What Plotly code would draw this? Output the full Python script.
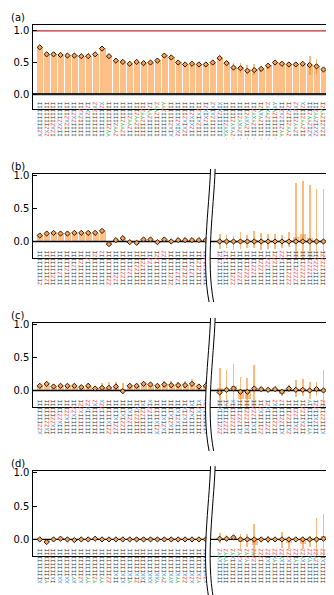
import plotly.graph_objects as go

W, H = 334, 595

# ---------------- data ----------------
slots = list(range(43))

# (a) stabilizer-type operators (first character = bottom of the rotated label)
a_labels = [
    "XZIIIIIIII", "ZXZIIIIIII", "IZXZIIIIII", "IIZXZIIIII", "IIIZXZIIII",
    "IIIIZXZIII", "IIIIIZXZII", "IIIIIIZXZI", "IIIIIIIZXZ", "IIIIIIIIZX",
    "YYZIIIIIII", "ZYYZIIIIII", "IZYYZIIIII", "IIZYYZIIII", "IIIZYYZIII",
    "IIIIZYYZII", "IIIIIZYYZI", "IIIIIIZYYZ", "IIIIIIIZYY",
    "XIXZIIIIII", "ZXIXZIIIII", "IZXIXZIIII", "IIZXIXZIII", "IIIZXIXZII",
    "IIIIZXIXZI", "IIIIIZXIXZ", "IIIIIIZXIX",
    "-YXYZIIIIII", "-ZYXYZIIIII", "-IZYXYZIIII", "-IIZYXYZIII", "-IIIZYXYZII",
    "-IIIIZYXYZI", "-IIIIIZYXYZ", "-IIIIIIZYXY",
    "YYZIIZXZII", "ZYYZIIZXZI", "IZYYZIIZXZ", "IIZYYZIIZX",
    "XZIZYYZIII", "ZXZIZYYZII", "IZXZIZYYZI", "IIZXZIZYYZ",
]
a_theory = [0.74, 0.63, 0.63, 0.62, 0.61, 0.61, 0.60, 0.60, 0.63, 0.72,
            0.60, 0.53, 0.51, 0.48, 0.51, 0.49, 0.50, 0.53, 0.61,
            0.58, 0.50, 0.47, 0.48, 0.47, 0.47, 0.50, 0.57,
            0.49, 0.42, 0.41, 0.37, 0.38, 0.40, 0.45, 0.50,
            0.48, 0.47, 0.47, 0.48, 0.46, 0.44, 0.39, 0.42]
a_exp = [0.74, 0.63, 0.63, 0.62, 0.61, 0.61, 0.60, 0.60, 0.63, 0.72,
         0.60, 0.53, 0.51, 0.48, 0.51, 0.49, 0.50, 0.53, 0.61,
         0.58, 0.50, 0.47, 0.48, 0.47, 0.47, 0.50, 0.57,
         0.49, 0.43, 0.42, 0.39, 0.39, 0.40, 0.45, 0.50,
         0.48, 0.47, 0.47, 0.48, 0.46, 0.44, 0.39, 0.42]
a_err = [0.01, 0.01, 0.01, 0.01, 0.01, 0.01, 0.01, 0.01, 0.01, 0.01,
         0.01, 0.01, 0.01, 0.01, 0.01, 0.01, 0.01, 0.01, 0.01,
         0.01, 0.01, 0.01, 0.01, 0.01, 0.01, 0.01, 0.02,
         0.02, 0.07, 0.08, 0.07, 0.08, 0.05, 0.05, 0.02,
         0.01, 0.01, 0.02, 0.02, 0.15, 0.12, 0.02, 0.02]

# (b)
b_labels = [
    "ZIIIIIIIII", "IZIIIIIIII", "IIZIIIIIII", "IIIZIIIIII", "IIIIZIIIII",
    "IIIIIZIIII", "IIIIIIZIII", "IIIIIIIZII", "IIIIIIIIZI", "IIIIIIIIIZ",
    "ZZIIIIIIII", "IZZIIIIIII", "IIZZIIIIII", "IIIZZIIIII", "IIIIZZIIII",
    "IIIIIZZIII", "IIIIIIZZII", "IIIIIIIZZI", "IIIIIIIIZZ",
    "ZIZIIIIIII", "IZIZIIIIII", "IIZIZIIIII", "IIIZIZIIII", "IIIIZIZIII",
    "IIIIIZIZII", "",
    "IIIIIIZIZI", "IIIIIIIZIZ",
    "ZZZIIIIIII", "IZZZIIIIII", "IIZZZIIIII", "IIIZZZIIII", "IIIIZZZIII",
    "IIIIIZZZII", "IIIIIIZZZI", "IIIIIIIZZZ",
    "ZZZZIIIIII", "IZZZZIIIII", "IIZZZZIIII", "IIIZZZZIII", "IIIIZZZZII",
    "IIIIIZZZZI", "IIIIIIZZZZ",
]
b_theory = [0.09, 0.12, 0.13, 0.12, 0.12, 0.13, 0.13, 0.13, 0.13, 0.16,
            -0.04, 0.02, 0.05, -0.01, -0.02, 0.03, 0.03, -0.01, 0.03,
            0.0, 0.02, 0.02, 0.02, 0.02, 0.02, None,
            0.0, 0.0, 0.0, 0.0, 0.0, 0.0, 0.0, 0.0, 0.0,
            0.0, 0.0, 0.0, 0.0, 0.0, 0.0, 0.0, 0.0]
b_exp = [0.09, 0.12, 0.13, 0.12, 0.12, 0.13, 0.13, 0.13, 0.13, 0.16,
         -0.04, 0.02, 0.05, -0.01, -0.02, 0.03, 0.03, -0.01, 0.03,
         0.0, 0.02, 0.02, 0.02, 0.02, 0.02, None,
         0.0, 0.0, -0.02, 0.02, 0.0, 0.03, 0.0, 0.0, 0.0,
         0.0, 0.03, 0.08, 0.12, 0.06, 0.0, 0.0, -0.22]
b_err = [0.01, 0.01, 0.01, 0.01, 0.01, 0.01, 0.01, 0.01, 0.01, 0.01,
         0.01, 0.01, 0.01, 0.01, 0.01, 0.01, 0.01, 0.01, 0.01,
         0.01, 0.01, 0.01, 0.01, 0.01, 0.01, None,
         0.12, 0.10, 0.11, 0.13, 0.10, 0.13, 0.13, 0.11, 0.11,
         0.10, 0.12, 0.80, 0.79, 0.79, 0.80, 0.80, 0.79]

# (c)
c_labels = [
    "XZZIIIIIII", "IXZZIIIIII", "IIXZZIIIII", "IIIXZZIIII", "IIIIXZZIII",
    "IIIIIXZZII", "IIIIIIXZZI", "IIIIIIIXZZ", "IIIIIIIIXZ", "IIIIIIIZZX",
    "ZZIXIIIIII", "IZZIXIIIII", "IIZZIXIIII", "IIIZZIXIII", "IIIIZZIXII",
    "IIIIIZZIXI", "IIIIIIZZIX",
    "XZIXIIIIII", "IXZIXIIIII", "IIXZIXIIII", "IIIXZIXIII", "IIIIXZIXII",
    "IIIIIXZIXI", "IIIIIIXZIX", "XIIIIIIZZX", "",
    "ZZZIIIIXII", "IZZZIIIIXI", "IIZZZIIIIX", "XIIZZZIIII", "IXIIZZZIII",
    "IIXIIZZZII", "ZZIIIIXZII", "IZZIIIIXZI", "IIZZIIIIXZ", "XIIZZIIIIZ",
    "ZXIIZZIIII", "IZXIIZZIII", "IIZXIIZZII", "YYIIIIIIIY", "IIIZXIIZZI",
    "XIIIZZIIIZ", "IIIIIZXIZZ",
]
c_theory = [0.07, 0.10, 0.06, 0.07, 0.07, 0.07, 0.05, 0.07, 0.03, 0.04,
            0.04, 0.06, -0.01, 0.07, 0.07, 0.10, 0.09, 0.07, 0.09, 0.08,
            0.08, 0.08, 0.10, 0.06, 0.07, None,
            -0.03, 0.01, 0.03, -0.02, -0.02, 0.03, 0.02, 0.01, 0.02,
            -0.02, 0.03, 0.01, 0.01, 0.0, 0.02, 0.0, 0.01]
c_exp = [0.07, 0.09, 0.06, 0.07, 0.07, 0.06, 0.05, 0.07, 0.04, 0.05,
         0.06, 0.07, 0.03, 0.07, 0.07, 0.10, 0.09, 0.08, 0.09, 0.09,
         0.08, 0.09, 0.11, 0.05, 0.08, None,
         0.04, 0.02, 0.07, -0.12, -0.12, 0.05, 0.02, 0.01, 0.02,
         -0.05, 0.03, 0.03, 0.05, 0.0, 0.02, 0.03, 0.13]
c_err = [0.02, 0.02, 0.03, 0.02, 0.03, 0.02, 0.04, 0.05, 0.03, 0.06,
         0.07, 0.06, 0.08, 0.05, 0.03, 0.02, 0.02, 0.04, 0.05, 0.06,
         0.05, 0.05, 0.06, 0.04, 0.07, None,
         0.30, 0.29, 0.33, 0.32, 0.31, 0.34, 0.03, 0.02, 0.02,
         0.04, 0.05, 0.13, 0.13, 0.13, 0.11, 0.28, 0.31]

# (d)
d_labels = [
    "XIIIIIIIII", "YIIIIIIIII", "IXIIIIIIII", "XXIIIIIIII", "XXIIIIIIII",
    "XYIIIIIIII", "XZIIIIIIII", "YYIIIIIIII", "YZIIIIIIII", "YYIIIIIIII",
    "ZZIIIIIIII", "IIXIIIIIII", "XIXIIIIIII", "YIXIIIIIII", "ZIXIIIIIII",
    "IXXIIIIIII", "XXXIIIIIII", "YXXIIIIIII", "ZYXIIIIIII", "XYXIIIIIII",
    "YYXIIIIIII", "ZZXIIIIIII", "XZXIIIIIII", "YZXIIIIIII", "XZXIIIIIII", "",
    "IIIIIIXYYZ", "IIIIIIYYYZ", "IIIIIIIXYZ", "IIIIIIXZYZ", "IIIIIIYZYZ",
    "IIIIIIZZYZ", "IIIIIIIZZZ", "IIIIIIXIZZ", "IIIIIIYXZZ", "IIIIIIXYZZ",
    "IIIIIIXZZZ", "IIIIIIYIZZ", "IIIIIIXYZZ", "IIIIIIYXZZ", "IIIIIIZYZZ",
    "IIIIIIXIZZ", "IIIIIIYZZZ",
]
d_theory = [0.0, -0.04, 0.0, 0.01, 0.0, -0.01, 0.0, 0.0, 0.01, 0.0,
            0.0, 0.0, 0.0, 0.0, 0.0, 0.0, 0.0, 0.0, 0.0, 0.0,
            0.0, 0.0, 0.0, 0.0, 0.0, None,
            0.01, 0.01, 0.03, 0.0, 0.0, 0.0, 0.0, 0.0, 0.0,
            0.0, 0.0, 0.0, 0.0, 0.0, 0.0, 0.01, 0.0]
d_exp = [0.0, -0.04, 0.0, 0.01, 0.0, -0.01, 0.0, 0.0, 0.01, 0.0,
         0.0, 0.0, 0.0, 0.0, 0.0, 0.0, 0.0, 0.0, 0.0, 0.0,
         0.0, 0.0, 0.0, 0.0, 0.0, None,
         0.02, 0.01, 0.03, -0.04, -0.02, -0.08, 0.0, 0.0, 0.0,
         -0.01, -0.06, 0.0, -0.07, -0.03, 0.02, 0.05, -0.05]
d_err = [0.01, 0.01, 0.01, 0.01, 0.01, 0.01, 0.01, 0.01, 0.01, 0.01,
         0.01, 0.01, 0.01, 0.01, 0.01, 0.01, 0.01, 0.01, 0.01, 0.01,
         0.01, 0.01, 0.01, 0.01, 0.01, None,
         0.07, 0.05, 0.02, 0.12, 0.10, 0.31, 0.03, 0.05, 0.02,
         0.12, 0.08, 0.02, 0.07, 0.08, 0.30, 0.33, 0.30]

# ---------------- styling ----------------
PAULI_COLORS = {'I': '#333333', 'X': '#3a8ee0', 'Y': '#3cb043',
                'Z': '#ec4a4a', '-': '#8c8c8c'}
BAR_COLOR = '#ffbf87'
ERR_COLOR = 'rgba(255,127,14,0.55)'
X_RANGE = [-1.05, 43.1]
BREAK_SLOT = 25


def colour_label(s):
    return ''.join("<span style='color:%s'>%s</span>" % (PAULI_COLORS[c], c) for c in s)


def px(x):
    return x / W


def py(y):
    return 1 - y / H


# name, labels, exp, err, theory, plot top px, plot bottom px, y range, broken axis
panels = [
    ('(a)', a_labels, a_exp, a_err, a_theory, 13.3, 98.0, [-0.24, 1.09], False),
    ('(b)', b_labels, b_exp, b_err, b_theory, 162.7, 247.7, [-0.25, 1.025], True),
    ('(c)', c_labels, c_exp, c_err, c_theory, 312.7, 397.7, [-0.25, 1.025], True),
    ('(d)', d_labels, d_exp, d_err, d_theory, 462.0, 547.7, [-0.25, 1.03], True),
]

fig = go.Figure()
shapes = []
annotations = []
layout = {}

for i, (name, labels, exp, err, theory, top, bot, yr, broken) in enumerate(panels):
    n = '' if i == 0 else str(i + 1)
    xa, ya = 'x' + n, 'y' + n

    fig.add_trace(go.Bar(
        x=slots, y=exp, width=0.86, marker=dict(color=BAR_COLOR, line=dict(width=0)),
        error_y=dict(type='data', array=err, color=ERR_COLOR, thickness=1.8, width=0),
        xaxis=xa, yaxis=ya, showlegend=False))
    if i == 0:
        fig.add_trace(go.Scatter(x=X_RANGE, y=[1, 1], mode='lines',
                                 line=dict(color='#c22a26', width=1.3),
                                 xaxis=xa, yaxis=ya, showlegend=False))
    fig.add_trace(go.Scatter(x=X_RANGE, y=[0, 0], mode='lines',
                             line=dict(color='#262626' if i == 0 else 'black',
                                       width=2.2 if i == 0 else 1.4),
                             xaxis=xa, yaxis=ya, showlegend=False))
    fig.add_trace(go.Scatter(x=slots, y=theory, mode='markers',
                             marker=dict(symbol='diamond', size=4, color='#ffa14a',
                                         line=dict(color='#1a1a1a', width=1)),
                             xaxis=xa, yaxis=ya, showlegend=False))

    layout['xaxis' + n] = dict(
        domain=[px(24.5), px(330)], range=X_RANGE, anchor=ya,
        tickmode='array', tickvals=slots, ticktext=[colour_label(s) for s in labels],
        tickangle=-90, tickfont=dict(family='DejaVu Sans Mono', size=5.8),
        ticklabelstandoff=-11,
        ticks='', showline=True, mirror=True, linecolor='black', linewidth=1.3,
        showgrid=False, zeroline=False)
    layout['yaxis' + n] = dict(
        domain=[py(bot), py(top)], range=yr, anchor=xa,
        tickmode='array', tickvals=[0, 0.5, 1.0], ticktext=['0.0', '0.5', '1.0'],
        ticks='inside', ticklen=4, tickwidth=1, tickcolor='black',
        tickfont=dict(family='DejaVu Sans', size=10, color='black'),
        showline=True, mirror='ticks', linecolor='black', linewidth=1.3,
        showgrid=False, zeroline=False)

    annotations.append(dict(text=name, x=px(1), y=py(top - 7.5), xref='paper', yref='paper',
                            xanchor='left', yanchor='middle', showarrow=False,
                            font=dict(family='DejaVu Sans', size=10, color='black')))

    if broken:
        # slot position of the break in pixels
        cx = 24.5 + (BREAK_SLOT - X_RANGE[0]) / (X_RANGE[1] - X_RANGE[0]) * (330 - 24.5)
        t0, hh = top - 4.7, 134.0
        curve = [(cx - 2.2, t0), (cx - 3.7, t0 + 0.31 * hh),
                 (cx - 11.7, t0 + 0.69 * hh), (cx - 3.7, t0 + hh)]
        off = 4.6

        def pt(p, d=0.0):
            return '%.5f,%.5f' % (px(p[0] + d), py(p[1]))

        left = 'M%s C%s %s %s' % (pt(curve[0]), pt(curve[1]), pt(curve[2]), pt(curve[3]))
        right = 'M%s C%s %s %s' % (pt(curve[0], off), pt(curve[1], off),
                                   pt(curve[2], off), pt(curve[3], off))
        band = ('M%s C%s %s %s L%s C%s %s %s Z' %
                (pt(curve[0]), pt(curve[1]), pt(curve[2]), pt(curve[3]),
                 pt(curve[3], off), pt(curve[2], off), pt(curve[1], off), pt(curve[0], off)))
        shapes.append(dict(type='path', path=band, xref='paper', yref='paper',
                           fillcolor='white', line=dict(width=0), layer='above'))
        for p in (left, right):
            shapes.append(dict(type='path', path=p, xref='paper', yref='paper',
                               line=dict(color='black', width=1), layer='above'))

fig.update_layout(
    width=W, height=H, margin=dict(l=0, r=0, t=0, b=0),
    paper_bgcolor='white', plot_bgcolor='white',
    shapes=shapes, annotations=annotations, bargap=0,
    **layout)

fig.write_html("out.html")
